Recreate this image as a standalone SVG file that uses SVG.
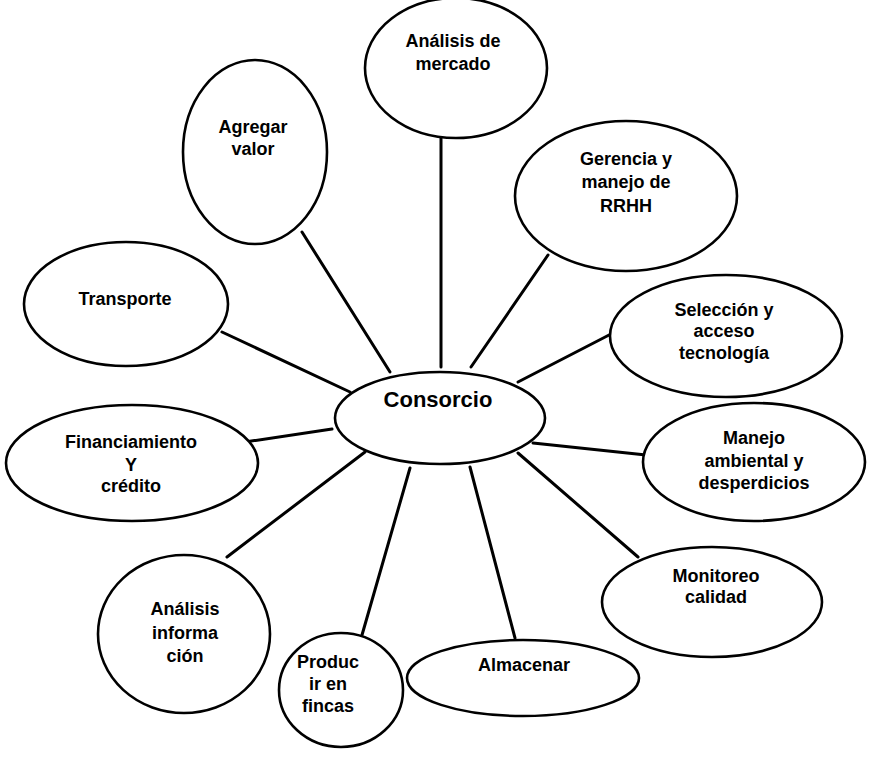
<svg xmlns="http://www.w3.org/2000/svg" width="870" height="760" viewBox="0 0 870 760">
<style>
.n{fill:#fff;stroke:#000;stroke-width:2.6}
.c line{stroke:#000;stroke-width:3;stroke-linecap:round}
text{font-family:"Liberation Sans",Arial,sans-serif;font-weight:bold;font-size:18px;text-anchor:middle;fill:#000}
</style>
<rect width="870" height="760" fill="#fff"/>
<g id="connectors" class="c">
<line x1="441" y1="138" x2="441" y2="367"/>
<line x1="302" y1="232" x2="390" y2="372"/>
<line x1="548" y1="255" x2="471" y2="367"/>
<line x1="222" y1="332" x2="350" y2="392"/>
<line x1="611" y1="334" x2="518" y2="382"/>
<line x1="245" y1="442" x2="332" y2="429"/>
<line x1="533" y1="443" x2="646" y2="455"/>
<line x1="518" y1="453" x2="638" y2="557"/>
<line x1="470" y1="467" x2="515" y2="638"/>
<line x1="410" y1="468" x2="362" y2="635"/>
<line x1="365" y1="452" x2="227" y2="557"/>
</g>
<g id="consorcio"><ellipse class="n" cx="440" cy="418" rx="105" ry="46"/><text x="438" y="407" style="font-size:22px">Consorcio</text></g>
<g id="analisis-mercado"><ellipse class="n" cx="456" cy="68" rx="91" ry="70"/><text x="453" y="47">Análisis de</text><text x="453" y="70">mercado</text></g>
<g id="agregar-valor"><ellipse class="n" cx="255" cy="152" rx="72" ry="92"/><text x="253" y="133">Agregar</text><text x="253" y="155">valor</text></g>
<g id="gerencia"><ellipse class="n" cx="626" cy="196" rx="111" ry="75"/><text x="626" y="165">Gerencia y</text><text x="626" y="188">manejo de</text><text x="626" y="212">RRHH</text></g>
<g id="transporte"><ellipse class="n" cx="126" cy="304" rx="102" ry="62"/><text x="125" y="305">Transporte</text></g>
<g id="seleccion"><ellipse class="n" cx="726" cy="336" rx="116" ry="61"/><text x="724" y="316">Selección y</text><text x="724" y="337">acceso</text><text x="724" y="359">tecnología</text></g>
<g id="manejo"><ellipse class="n" cx="754" cy="462" rx="111" ry="59"/><text x="754" y="444">Manejo</text><text x="754" y="467">ambiental y</text><text x="754" y="489">desperdicios</text></g>
<g id="financiamiento"><ellipse class="n" cx="132" cy="463" rx="126" ry="58"/><text x="131" y="448">Financiamiento</text><text x="131" y="471">Y</text><text x="131" y="492">crédito</text></g>
<g id="analisis-informacion"><ellipse class="n" cx="184" cy="634" rx="86" ry="79"/><text x="185" y="615">Análisis</text><text x="185" y="639">informa</text><text x="185" y="662">ción</text></g>
<g id="producir"><ellipse class="n" cx="341" cy="690" rx="62" ry="57"/><text x="328" y="668">Produc</text><text x="328" y="690">ir en</text><text x="328" y="712">fincas</text></g>
<g id="almacenar"><ellipse class="n" cx="523" cy="678" rx="116" ry="38"/><text x="524" y="671">Almacenar</text></g>
<g id="monitoreo"><ellipse class="n" cx="712" cy="602" rx="110" ry="55"/><text x="716" y="582">Monitoreo</text><text x="716" y="603">calidad</text></g>
</svg>
